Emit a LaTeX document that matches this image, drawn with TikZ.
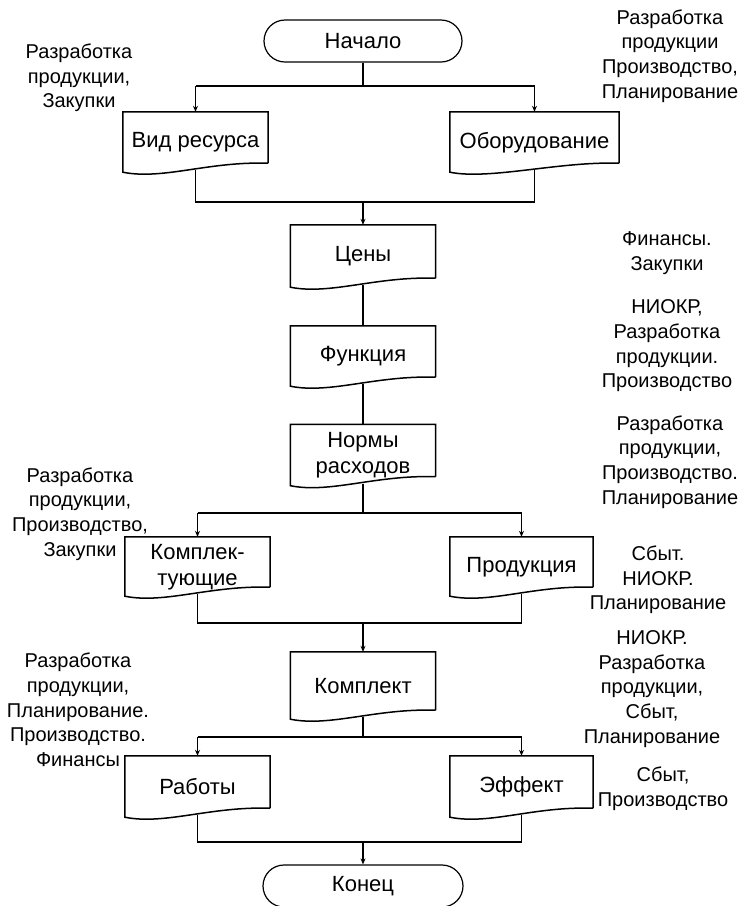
\documentclass[tikz,border=0pt]{standalone}
\usepackage{fontspec}
\setmainfont{Liberation Sans}
\usetikzlibrary{arrows.meta,shapes.misc}
\tikzset{
  docbox/.style={rectangle, draw=none, inner sep=0pt},
  boxtext/.style={align=center, font=\fontsize{22}{26}\selectfont, inner sep=0pt, yshift=-5pt},
  term/.style={rounded rectangle, draw, line width=1.2pt, inner sep=1pt,
    font=\fontsize{22}{26}\selectfont},
  conn/.style={line width=1.8pt},
  arr/.style={line width=1.8pt, -{Stealth[length=6pt,width=5pt]}},
  boxline/.style={line width=1.5pt},
  lbl/.style={align=center, font=\fontsize{20}{24.7}\selectfont, inner sep=0pt}
}
\newcommand{\docshape}[1]{%
  \draw[boxline] (#1.south east) -- (#1.north east) -- (#1.north west) --
   ([yshift=-9pt]#1.south west) .. controls ([xshift=40pt,yshift=-17pt]#1.south west)
   and ([xshift=-60pt,yshift=2pt]#1.south east) .. (#1.south east);}
\begin{document}
\begin{tikzpicture}[x=1pt,y=1pt]
\useasboundingbox (0,0) rectangle (741,-906);
% terminators
\node[term, minimum width=200pt, minimum height=42pt] (start) at (363,-41) {Начало};
\node[term, minimum width=202pt, minimum height=42pt] (end) at (363,-886) {Конец};
% documents
\node[docbox, minimum width=145pt, minimum height=51pt, label={[boxtext]center:Вид ресурса}] (vid) at (195.5,-137.5) {};
\node[docbox, minimum width=169pt, minimum height=51pt, label={[boxtext]center:Оборудование}] (obo) at (534.5,-137.5) {};
\node[docbox, minimum width=145pt, minimum height=53pt, label={[boxtext]center:Цены}] (ceny) at (363,-251.5) {};
\node[docbox, minimum width=145pt, minimum height=51pt, label={[boxtext]center:Функция}] (func) at (363,-351.5) {};
\node[docbox, minimum width=145pt, minimum height=52pt, label={[boxtext]center:Нормы\\расходов}] (norm) at (363,-450.5) {};
\node[docbox, minimum width=145pt, minimum height=50pt, label={[boxtext]center:Комплек-\\тующие}] (kompl) at (197.5,-562) {};
\node[docbox, minimum width=143pt, minimum height=50pt, label={[boxtext]center:Продукция}] (prod) at (521.5,-562) {};
\node[docbox, minimum width=145pt, minimum height=58pt, label={[boxtext]center:Комплект}] (komplekt) at (363,-681) {};
\node[docbox, minimum width=145pt, minimum height=52pt, label={[boxtext]center:Работы}] (rab) at (197.5,-782) {};
\node[docbox, minimum width=143pt, minimum height=52pt, label={[boxtext]center:Эффект}] (eff) at (521.5,-782) {};
\docshape{vid}\docshape{obo}\docshape{ceny}\docshape{func}\docshape{norm}
\docshape{kompl}\docshape{prod}\docshape{komplekt}\docshape{rab}\docshape{eff}
% junctions
\coordinate (j1) at (363,-86);
\coordinate (m1) at (363,-202);
\coordinate (j2) at (363,-513);
\coordinate (m2) at (363,-623);
\coordinate (j3) at (363,-737);
\coordinate (m3) at (363,-842);
% connectors block 1
\draw[conn] (start.south) -- (j1);
\draw[conn] (vid.north |- j1) -- (obo.north |- j1);
\draw[arr] (vid.north |- j1) -- (vid.north);
\draw[arr] (obo.north |- j1) -- (obo.north);
\draw[conn] ([yshift=-7pt]vid.south) -- (vid.south |- m1) -- (obo.south |- m1) -- ([yshift=-7pt]obo.south);
\draw[arr] (m1) -- (ceny.north);
\draw[conn] ([yshift=-7pt]ceny.south) -- (func.north);
\draw[conn] ([yshift=-7pt]func.south) -- (norm.north);
% block 2
\draw[conn] ([yshift=-7pt]norm.south) -- (j2);
\draw[conn] (kompl.north |- j2) -- (prod.north |- j2);
\draw[arr] (kompl.north |- j2) -- (kompl.north);
\draw[arr] (prod.north |- j2) -- (prod.north);
\draw[conn] ([yshift=-7pt]kompl.south) -- (kompl.south |- m2) -- (prod.south |- m2) -- ([yshift=-7pt]prod.south);
\draw[arr] (m2) -- (komplekt.north);
% block 3
\draw[conn] ([yshift=-7pt]komplekt.south) -- (j3);
\draw[conn] (rab.north |- j3) -- (eff.north |- j3);
\draw[arr] (rab.north |- j3) -- (rab.north);
\draw[arr] (eff.north |- j3) -- (eff.north);
\draw[conn] ([yshift=-7pt]rab.south) -- (rab.south |- m3) -- (eff.south |- m3) -- ([yshift=-7pt]eff.south);
\draw[arr] (m3) -- (end.north);
% labels
\node[lbl] (l1) at (79,-78) {Разработка\\продукции,\\Закупки};
\node[lbl] (l2) at (670,-56) {Разработка\\продукции\\Производство,\\Планирование};
\node[lbl] (l3) at (667,-253) {Финансы.\\Закупки};
\node[lbl] (l4) at (667,-346) {НИОКР,\\Разработка\\продукции.\\Производство};
\node[lbl] (l5) at (670,-462) {Разработка\\продукции,\\Производство.\\Планирование};
\node[lbl] (l6) at (80,-514) {Разработка\\продукции,\\Производство,\\Закупки};
\node[lbl] (l7) at (658,-580) {Сбыт.\\НИОКР.\\Планирование};
\node[lbl] (l8) at (652,-689) {НИОКР.\\Разработка\\продукции,\\Сбыт,\\Планирование};
\node[lbl] (l9) at (78,-710) {Разработка\\продукции,\\Планирование.\\Производство.\\Финансы};
\node[lbl] (l10) at (663,-789) {Сбыт,\\Производство};
\end{tikzpicture}
\end{document}
